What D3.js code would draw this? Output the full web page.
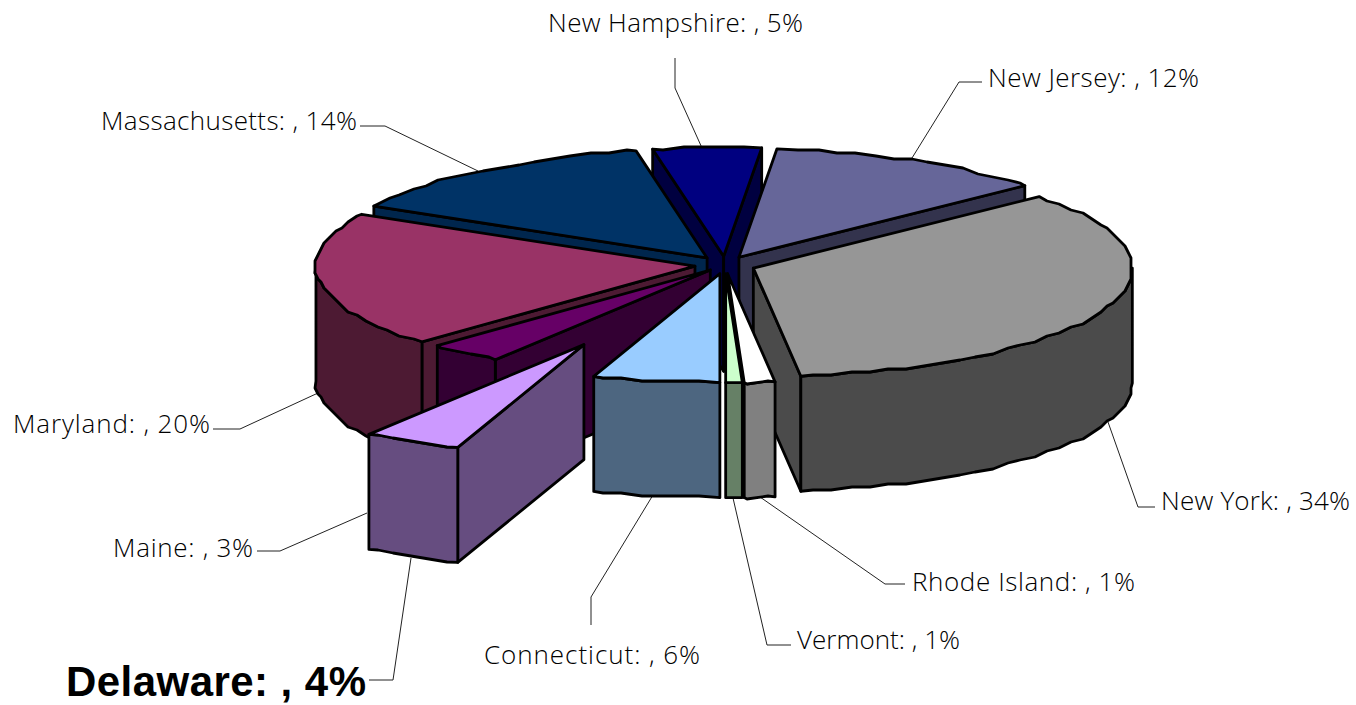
<!DOCTYPE html>
<html>
<head>
<meta charset="utf-8">
<script src="https://cdn.jsdelivr.net/npm/d3@7"></script>
<style>
body { margin: 0; background: #fff; }
text { font-family: "Open Sans", sans-serif; font-weight: 300; fill: #000; }
</style>
</head>
<body>
<svg width="1356" height="705"></svg>
<script>
// slice order as in the sheet, clockwise from 6 o'clock
var states = ["Connecticut", "Delaware", "Maine", "Maryland", "Massachusetts", "New Hampshire", "New Jersey", "New York", "Rhode Island", "Vermont"];
var shares = [5.4, 4.2, 3.2, 20.1, 14.1, 4.6, 12.0, 34.4, 1.3, 0.7];
var shownPct = [6, 4, 3, 20, 14, 5, 12, 34, 1, 1];
var explode = [0.08, 0.82, 0.06, 0.08, 0.08, 0.08, 0.08, 0.08, 0.08, 0.08];
var topColors = ["#99CCFF", "#CC99FF", "#660066", "#993366", "#003366", "#000080", "#666699", "#969696", "#FFFFFF", "#CCFFCC"];
var wallColors = ["#4D6680", "#664D80", "#330033", "#4D1A33", "#00264D", "#000040", "#33334D", "#4B4B4B", "#808080", "#668066"];

// back to front
var drawOrder = ["New Hampshire", "New Jersey", "Massachusetts", "Maryland", "Maine", "New York", "Rhode Island", "Vermont", "Connecticut", "Delaware"];

var labelBoxes = {
    "New Hampshire": {x: 548, y: 32, w: 255, line: [[675, 58], [675, 88], [702, 148]]},
    "New Jersey": {x: 988, y: 87, w: 211, line: [[982, 82], [959, 82], [912, 158]]},
    "Massachusetts": {x: 101, y: 130, w: 256, line: [[360, 126], [385, 126], [478, 171]]},
    "Maryland": {x: 13, y: 433, w: 197, line: [[213, 429], [240, 429], [318, 393]]},
    "Maine": {x: 113, y: 557, w: 140, line: [[257, 551], [280, 551], [367, 513]]},
    "Delaware": {x: 66, y: 696, w: 300, big: true, line: [[369, 680], [393, 680], [411, 558]]},
    "Connecticut": {x: 484, y: 664, w: 216, line: [[653, 495], [591, 597], [591, 625]]},
    "Vermont": {x: 797, y: 649, w: 163, line: [[733, 498], [767, 645], [791, 645]]},
    "Rhode Island": {x: 912, y: 591, w: 223, line: [[760, 497], [885, 584], [905, 584]]},
    "New York": {x: 1161, y: 510, w: 189, line: [[1108, 422], [1138, 507], [1155, 507]]}
};

var cx = 725, cy = 265, rx = 379, ry = 109, depth = 115;

var svg = d3.select("svg");

var pie = d3.pie().sort(null).startAngle(Math.PI).endAngle(3 * Math.PI);
var arcs = pie(shares);

var slices = states.map(function(name, i) {
    var a0 = arcs[i].startAngle, a1 = arcs[i].endAngle, mid = (a0 + a1) / 2;
    return {
        name: name, a0: a0, a1: a1,
        top: topColors[i], wall: wallColors[i],
        ax: cx + explode[i] * rx * Math.sin(mid),
        ay: cy - explode[i] * ry * Math.cos(mid)
    };
});

function rimPoint(s, a) {
    return [s.ax + rx * Math.sin(a), s.ay - ry * Math.cos(a)];
}

// the original rim is a coarse polyline, snapping the samples gives the same bumpy edge.
// samples sit on fixed angles so the wall and the top of a slice share one edge
var rimStep = 3 * Math.PI / 180;
function rim(s, a0, a1) {
    var pts = [rimPoint(s, a0)];
    var k = Math.floor(a0 / rimStep) + 1;
    for (; k * rimStep < a1 - 0.005; k++) {
        if (k * rimStep < a0 + 0.005) continue;
        var p = rimPoint(s, k * rimStep);
        pts.push([Math.round(p[0] / 3) * 3, Math.round(p[1] / 3) * 3]);
    }
    pts.push(rimPoint(s, a1));
    return pts;
}

var straight = d3.line();

function down(pts) {
    return pts.map(function(p) { return [p[0], p[1] + depth]; }).reverse();
}

function drawFace(g, d, fill) {
    g.append("path")
        .attr("d", d)
        .attr("fill", fill)
        .attr("stroke", "#000")
        .attr("stroke-width", 2.8)
        .attr("stroke-linejoin", "round");
}

function radialWall(g, s, a) {
    var p = rimPoint(s, a);
    var d = "M" + [s.ax, s.ay] + "L" + p + "L" + [p[0], p[1] + depth] + "L" + [s.ax, s.ay + depth] + "Z";
    drawFace(g, d, s.wall);
}

function norm(a) {
    return (a % (2 * Math.PI) + 2 * Math.PI) % (2 * Math.PI);
}

// leader lines go under the pie
var leaders = svg.append("g");
states.forEach(function(name) {
    leaders.append("path")
        .attr("d", d3.line()(labelBoxes[name].line))
        .attr("fill", "none")
        .attr("stroke", "#222")
        .attr("stroke-width", 1);
});

var pieG = svg.append("g");
drawOrder.forEach(function(name) {
    var s = slices.find(function(d) { return d.name == name; });
    var g = pieG.append("g");

    // cut faces
    if (Math.sin(norm(s.a0)) < -0.01) radialWall(g, s, s.a0);
    if (Math.sin(norm(s.a1)) > 0.01) radialWall(g, s, s.a1);

    // outer wall, only the front half of the rim shows
    var start = norm(s.a0);
    var lo = Math.max(start, Math.PI / 2);
    var hi = Math.min(start + (s.a1 - s.a0), 3 * Math.PI / 2);
    if (hi > lo) {
        var upper = rim(s, lo, hi);
        drawFace(g, straight(upper) + "L" + straight(down(upper)).slice(1) + "Z", s.wall);
    }

    // top
    var edge = rim(s, start, start + (s.a1 - s.a0));
    drawFace(g, "M" + [s.ax, s.ay] + "L" + straight(edge).slice(1) + "Z", s.top);
});

// labels
states.forEach(function(name, i) {
    var b = labelBoxes[name];
    svg.append("text")
        .attr("x", b.x)
        .attr("y", b.y)
        .attr("textLength", b.w)
        .attr("lengthAdjust", "spacing")
        .style("font-size", b.big ? "42px" : "26px")
        .style("font-family", b.big ? "'Liberation Sans', sans-serif" : null)
        .style("font-weight", b.big ? 700 : null)
        .text(name + ": , " + shownPct[i] + "%");
});
</script>
</body>
</html>
